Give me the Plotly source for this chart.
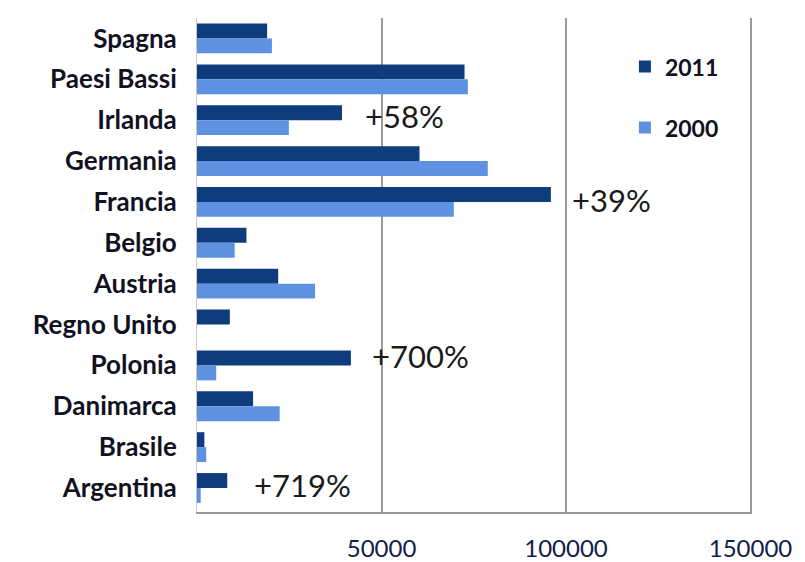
import plotly.graph_objects as go

# Countries, top to bottom as in the chart
countries = ['Spagna', 'Paesi Bassi', 'Irlanda', 'Germania', 'Francia', 'Belgio',
             'Austria', 'Regno Unito', 'Polonia', 'Danimarca', 'Brasile', 'Argentina']

values_2011 = [19000, 72500, 39300, 60300, 95900, 13400,
               22000, 8900, 41700, 15200, 2000, 8200]
values_2000 = [20300, 73400, 24900, 78800, 69600, 10200,
               32000, 0, 5200, 22400, 2500, 1000]

# growth labels shown next to some bars
notes = ['+58%', '+39%', '+700%', '+719%']
note_countries = ['Irlanda', 'Francia', 'Polonia', 'Argentina']
note_x = [45000, 101000, 47000, 15000]

tick_vals = [50000, 100000, 150000]

dark = '#0e3c7c'
light = '#5e92e0'

fig = go.Figure()

fig.add_trace(go.Bar(
    y=countries, x=values_2011, orientation='h', name='2011', legendgroup='a',
    marker=dict(color=dark, line=dict(width=0)),
))
fig.add_trace(go.Bar(
    y=countries, x=values_2000, orientation='h', name='2000', legendgroup='b',
    marker=dict(color=light, line=dict(width=0)),
))

for txt, c, xv, ys in zip(notes, note_countries, note_x, [4, 2, 9, 3]):
    fig.add_annotation(
        x=xv, y=c, text=txt, showarrow=False, xanchor='left', yshift=ys,
        font=dict(family='Lato', size=31, color='#1a1a1a'),
    )

fig.update_xaxes(
    range=[0, 150400], tickvals=tick_vals, ticktext=[str(v) for v in tick_vals],
    showgrid=True, gridcolor='#9a9a9a', gridwidth=1.5,
    showline=True, linecolor='#9a9a9a', linewidth=1.5,
    zeroline=False, ticks='', ticklabelstandoff=14, automargin=False,
    tickfont=dict(family='Lato', size=24, color='#10204a'),
)
fig.update_yaxes(
    autorange='reversed', showgrid=False, zeroline=False,
    showline=True, linecolor='#c8c8c8', linewidth=1,
    ticks='', ticklabelstandoff=14, automargin=False,
    tickfont=dict(family='Lato', size=26, color='#111122', weight='bold'),
)

# the page body adds 8px around the figure, so the figure is 8px smaller
fig.update_layout(
    width=797, height=554,
    margin=dict(l=189, r=53, t=10, b=50),
    barmode='group', bargap=0.27, bargroupgap=0,
    plot_bgcolor='white', paper_bgcolor='white',
    legend=dict(
        x=0.771, y=0.945, xanchor='left', yanchor='top',
        font=dict(family='Lato', size=23, color='#111122', weight='bold'),
        tracegroupgap=28, itemwidth=30, bgcolor='rgba(0,0,0,0)',
    ),
)

fig.write_html('out.html')
